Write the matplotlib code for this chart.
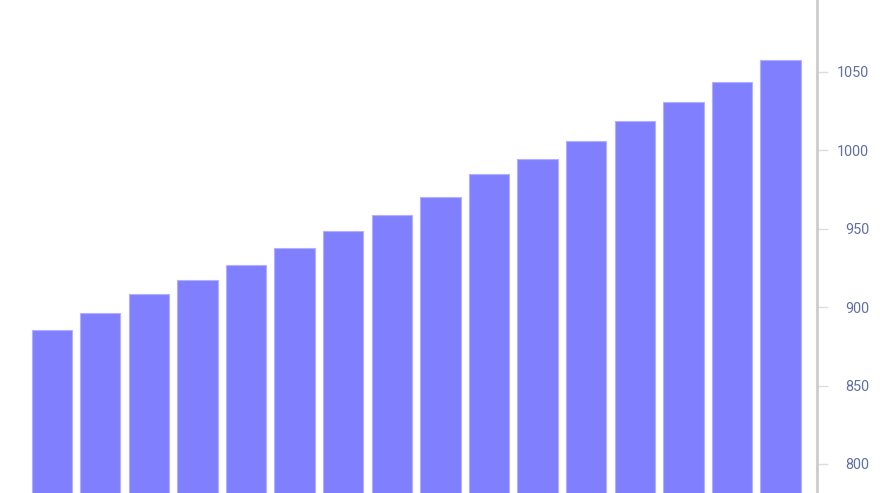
import matplotlib
matplotlib.use("Agg")
import matplotlib.pyplot as plt
import numpy as np
from matplotlib.transforms import offset_copy

categories = [f"C{i+1}" for i in range(16)]
values = [885.2, 896.0, 908.1, 917.2, 926.8, 937.8, 948.7, 958.9,
          969.9, 984.8, 994.6, 1005.6, 1018.6, 1030.5, 1043.4, 1057.3]
yticks = [800, 850, 900, 950, 1000, 1050, 1100]

plt.rcParams['font.family'] = ['Roboto', 'DejaVu Sans']

fig = plt.figure(figsize=(8.8, 4.93), dpi=100)
ax = fig.add_axes([0, 0, 817 / 880, 1])
x = np.arange(len(categories))
ax.bar(x, values, width=0.83, color='#8080ff', edgecolor='#b0b0ff', linewidth=0.8)
ax.set_xlim(-1.064, 15.75)
ax.set_ylim(781.5, 1095.7)

for s in ['top', 'bottom', 'left']:
    ax.spines[s].set_visible(False)
ax.spines['right'].set_color('#cccccc')
ax.spines['right'].set_linewidth(2)
ax.set_xticks([])
ax.yaxis.tick_right()
ax.set_yticks([t for t in yticks if t <= 1095.7])
ax.tick_params(axis='y', length=8, width=1, color='#dddddd', labelcolor='#6270a0',
               labelsize=10.4, pad=29.5)
for lab in ax.get_yticklabels():
    lab.set_ha('right')
# partially visible tick label above the top edge (as in the reference)
ax.text(1.0, yticks[-1], str(yticks[-1]),
        transform=offset_copy(ax.get_yaxis_transform(), fig=fig, x=49, y=0, units='dots'),
        color='#6270a0', fontsize=10.4, ha='right', va='center', clip_on=False)

fig.savefig('out.png', dpi=100)
